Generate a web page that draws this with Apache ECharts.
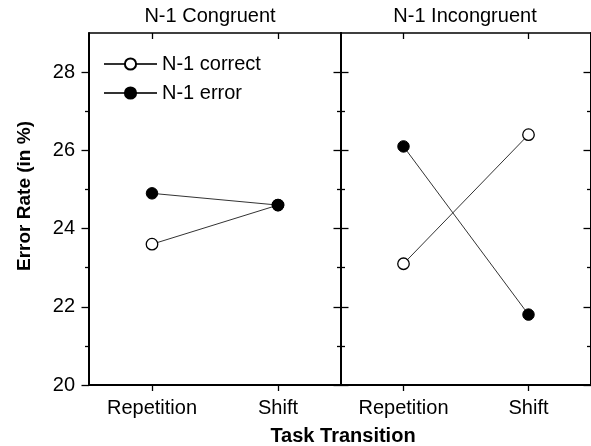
<!DOCTYPE html>
<html><head><meta charset="utf-8">
<script src="https://cdn.jsdelivr.net/npm/echarts@6/dist/echarts.min.js"></script>
<style>html,body{margin:0;padding:0;background:#fff}#c{width:591px;height:446px}</style>
</head><body><div id="c"></div>
<script>
const categories = ['Repetition', 'Shift'];
const panelTitles = ['N-1 Congruent', 'N-1 Incongruent'];
const seriesNames = ['N-1 correct', 'N-1 error'];
const congruentCorrect = [23.6, 24.6];
const congruentError = [24.9, 24.6];
const incongruentCorrect = [23.1, 26.4];
const incongruentError = [26.1, 21.8];
const yMajorTicks = [20, 22, 24, 26, 28];
const yMinorTicks = [21, 23, 25, 27];
const yMin = 20, yMax = 29;
const xTitle = 'Task Transition';
const yTitle = 'Error Rate (in %)';

const FONT = 'Liberation Sans, Arial, sans-serif';
const FS = 20;

function xAx(grid, pos) {
  const bottom = pos === 'bottom';
  return {
    type: 'category', gridIndex: grid, position: pos, data: categories,
    axisLine: { onZero: false, lineStyle: { color: '#000', width: bottom ? 2 : 1.5 } },
    axisTick: { show: true, alignWithLabel: true, inside: !bottom, length: 6, lineStyle: { color: '#000', width: 1.3 } },
    axisLabel: { show: bottom, color: '#000', fontFamily: FONT, fontSize: FS, margin: 13 },
    splitLine: { show: false }
  };
}
function yAx(grid, pos, inside, minor, labels) {
  return {
    type: 'value', gridIndex: grid, position: pos, min: yMin, max: yMax,
    axisLine: { show: !minor, onZero: false, lineStyle: { color: '#000', width: 2 } },
    axisTick: { show: true, inside: inside, length: minor ? 4 : 7.5,
      customValues: minor ? yMinorTicks : yMajorTicks, lineStyle: { color: '#000', width: 1.3 } },
    axisLabel: { show: !!labels, customValues: yMajorTicks, color: '#000', fontFamily: FONT, fontSize: FS, margin: 14 },
    splitLine: { show: false }
  };
}

const lineStyle = { color: '#333', width: 1 };
function mk(name, data, xi, yi) {
  const open = name === seriesNames[0];
  return {
    type: 'line', name: name, data: data, xAxisIndex: xi, yAxisIndex: yi,
    symbol: 'circle', symbolSize: 11.5,
    lineStyle: lineStyle,
    itemStyle: open ? { color: '#fff', borderColor: '#000', borderWidth: 1.3 } : { color: '#000', borderColor: '#000', borderWidth: 1 },
    emphasis: { disabled: true }, z: 3
  };
}

const option = {
  animation: false,
  backgroundColor: '#fff',
  textStyle: { fontFamily: FONT },
  title: [
    { text: panelTitles[0], left: 210, top: 6, textAlign: 'center', padding: 0,
      textStyle: { fontFamily: FONT, fontSize: FS, fontWeight: 'normal', color: '#000' } },
    { text: panelTitles[1], left: 465, top: 6, textAlign: 'center', padding: 0,
      textStyle: { fontFamily: FONT, fontSize: FS, fontWeight: 'normal', color: '#000' } }
  ],
  legend: {
    data: seriesNames, orient: 'vertical', left: 103, top: 54, padding: 0,
    itemWidth: 53, itemHeight: 14, itemGap: 9,
    textStyle: { fontFamily: FONT, fontSize: FS, color: '#000' },
    selectedMode: false
  },
  grid: [
    { left: 89, top: 33, width: 252, height: 352 },
    { left: 341, top: 33, width: 252, height: 352 }
  ],
  xAxis: [xAx(0, 'bottom'), xAx(0, 'top'), xAx(1, 'bottom'), xAx(1, 'top')],
  yAxis: [
    yAx(0, 'left', false, false, true),
    yAx(0, 'left', false, true, false),
    yAx(0, 'right', true, false, false),
    yAx(0, 'right', true, true, false),
    yAx(1, 'left', true, false, false),
    yAx(1, 'left', true, true, false),
    yAx(1, 'right', true, false, false),
    yAx(1, 'right', true, true, false)
  ],
  series: [
    mk(seriesNames[0], congruentCorrect, 0, 0),
    mk(seriesNames[1], congruentError, 0, 0),
    mk(seriesNames[0], incongruentCorrect, 2, 4),
    mk(seriesNames[1], incongruentError, 2, 4)
  ],
  graphic: [
    { type: 'text', x: 343, y: 436, style: { text: xTitle, fontFamily: FONT, fontSize: FS, fontWeight: 'bold', fill: '#000', textAlign: 'center', textVerticalAlign: 'middle' } },
    { type: 'text', x: 25, y: 196, rotation: Math.PI / 2, style: { text: yTitle, fontFamily: FONT, fontSize: 19, fontWeight: 'bold', fill: '#000', textAlign: 'center', textVerticalAlign: 'middle' } }
  ]
};
const chart = echarts.init(document.getElementById('c'), null, { renderer: 'canvas' });
chart.setOption(option);
</script>
</body></html>
